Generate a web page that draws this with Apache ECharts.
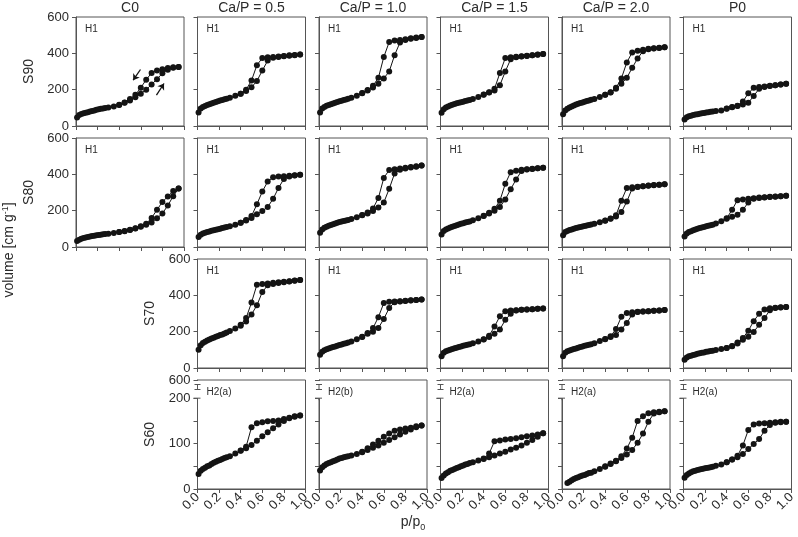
<!DOCTYPE html>
<html>
<head>
<meta charset="utf-8">
<script src="https://cdn.jsdelivr.net/npm/echarts@6/dist/echarts.min.js"></script>
<style>
html, body { margin: 0; padding: 0; background: #fff; }
#main { width: 798px; height: 537px; }
</style>
</head>
<body>
<div id="main"></div>
<script>
// column / row headers
const COLUMNS = ['C0', 'Ca/P = 0.5', 'Ca/P = 1.0', 'Ca/P = 1.5', 'Ca/P = 2.0', 'P0'];
const ROWS = ['S90', 'S80', 'S70', 'S60'];
const FIRST_COL = [0, 0, 1, 1];

// relative pressures shared by every isotherm
const P_ADS = [0.01, 0.03, 0.05, 0.07, 0.09, 0.11, 0.13, 0.15, 0.17, 0.19, 0.21, 0.23, 0.25, 0.27, 0.30,
  0.35, 0.40, 0.45, 0.50, 0.55, 0.60, 0.65, 0.70, 0.75, 0.80, 0.85, 0.90, 0.95];
const P_DES = [0.95, 0.90, 0.85, 0.80, 0.75, 0.70, 0.65, 0.60, 0.55, 0.50, 0.45, 0.40];

// S90
const s90_c0_ads = [47, 60, 66, 70, 73, 76, 80, 83, 86, 89, 92, 95, 97, 99, 102, 108, 116, 128, 140, 158, 178, 200, 229, 258, 290, 310, 320, 325];
const s90_c0_des = [325, 323, 319, 313, 305, 292, 255, 211, 172, 148, 130, 117];
const s90_c05_ads = [75, 96, 104, 110, 115, 120, 124, 128, 132, 136, 140, 143, 147, 150, 155, 166, 177, 192, 213, 248, 305, 360, 376, 380, 384, 387, 390, 393];
const s90_c05_des = [393, 391, 389, 386, 383, 380, 378, 374, 335, 250, 200, 178];
const s90_c10_ads = [75, 96, 105, 111, 116, 120, 124, 128, 132, 136, 139, 143, 146, 150, 156, 167, 180, 196, 212, 232, 262, 300, 390, 460, 474, 480, 485, 490];
const s90_c10_des = [490, 487, 483, 478, 474, 470, 462, 380, 265, 222, 198, 181];
const s90_c15_ads = [73, 92, 102, 108, 113, 117, 121, 125, 128, 131, 134, 137, 140, 143, 148, 160, 172, 185, 196, 225, 300, 368, 378, 382, 386, 389, 392, 396];
const s90_c15_des = [396, 393, 390, 387, 384, 381, 378, 374, 292, 205, 186, 173];
const s90_c20_ads = [65, 85, 95, 102, 108, 113, 118, 122, 126, 130, 134, 137, 141, 144, 149, 160, 172, 185, 205, 232, 265, 320, 372, 412, 422, 427, 430, 434];
const s90_c20_des = [434, 431, 428, 425, 420, 414, 405, 350, 262, 210, 186, 172];
const s90_p0_ads = [36, 48, 53, 57, 60, 63, 65, 67, 70, 72, 74, 76, 78, 80, 82, 86, 95, 103, 110, 118, 128, 165, 205, 215, 220, 224, 228, 233];
const s90_p0_des = [233, 229, 225, 221, 218, 214, 210, 180, 135, 112, 104, 96];

// S80
const s80_c0_ads = [33, 40, 45, 49, 52, 55, 58, 60, 62, 64, 66, 68, 70, 71, 73, 77, 82, 87, 94, 102, 112, 123, 135, 158, 185, 228, 280, 322];
const s80_c0_des = [322, 308, 278, 248, 205, 160, 128, 114, 103, 95, 88, 82];
const s80_c05_ads = [55, 68, 74, 78, 82, 86, 89, 92, 95, 98, 101, 104, 107, 110, 114, 123, 133, 146, 160, 180, 198, 220, 265, 325, 375, 388, 393, 398];
const s80_c05_des = [398, 395, 392, 390, 388, 384, 360, 305, 235, 170, 148, 134];
const s80_c10_ads = [78, 97, 106, 112, 117, 121, 125, 129, 133, 137, 140, 143, 146, 149, 154, 164, 175, 185, 198, 218, 245, 320, 405, 425, 432, 437, 442, 448];
const s80_c10_des = [448, 444, 440, 436, 432, 428, 424, 380, 270, 212, 190, 176];
const s80_c15_ads = [69, 88, 96, 102, 107, 112, 116, 120, 124, 128, 131, 135, 138, 141, 147, 158, 170, 184, 200, 220, 262, 318, 372, 418, 426, 430, 433, 436];
const s80_c15_des = [436, 434, 431, 428, 425, 420, 412, 348, 255, 210, 188, 172];
const s80_c20_ads = [64, 82, 88, 93, 97, 101, 104, 107, 110, 113, 116, 118, 121, 124, 128, 136, 145, 156, 168, 192, 250, 322, 330, 334, 337, 340, 342, 345];
const s80_c20_des = [345, 343, 341, 338, 335, 332, 329, 325, 255, 175, 157, 146];
const s80_p0_ads = [58, 75, 82, 87, 92, 96, 100, 104, 107, 110, 114, 117, 120, 123, 130, 142, 156, 166, 178, 205, 245, 266, 270, 273, 275, 277, 279, 282];
const s80_p0_des = [282, 280, 278, 276, 274, 272, 268, 265, 262, 258, 205, 158];

// S70
const s70_c05_ads = [100, 125, 137, 145, 151, 157, 162, 167, 172, 176, 181, 185, 190, 195, 203, 218, 232, 256, 295, 345, 418, 455, 462, 468, 472, 476, 480, 484];
const s70_c05_des = [484, 481, 478, 475, 472, 469, 465, 462, 458, 360, 275, 238];
const s70_c10_ads = [73, 90, 98, 103, 107, 111, 115, 119, 122, 126, 129, 133, 136, 140, 146, 158, 170, 188, 200, 220, 270, 330, 362, 366, 369, 372, 374, 377];
const s70_c10_des = [377, 375, 373, 370, 368, 366, 364, 358, 280, 220, 192, 172];
const s70_c15_ads = [64, 84, 92, 97, 101, 105, 109, 112, 116, 119, 122, 125, 128, 131, 136, 146, 157, 170, 188, 212, 265, 298, 316, 320, 322, 324, 326, 328];
const s70_c15_des = [328, 326, 324, 322, 320, 318, 316, 312, 285, 228, 178, 158];
const s70_c20_ads = [65, 84, 92, 97, 101, 105, 108, 112, 115, 118, 122, 125, 128, 131, 136, 148, 158, 170, 182, 212, 248, 295, 308, 311, 313, 315, 317, 319];
const s70_c20_des = [319, 317, 315, 313, 311, 309, 307, 303, 282, 214, 175, 159];
const s70_p0_ads = [45, 58, 64, 68, 72, 75, 78, 81, 84, 86, 89, 91, 93, 95, 99, 104, 110, 120, 135, 155, 172, 198, 238, 275, 318, 330, 333, 336];
const s70_p0_des = [336, 334, 332, 329, 322, 298, 258, 205, 165, 140, 121, 110];

// S60 (broken axis, 0-200)
const s60_c05_ads = [33, 40, 44, 47, 50, 52, 55, 58, 60, 62, 64, 66, 68, 70, 72, 78, 84, 90, 97, 106, 116, 125, 134, 142, 150, 156, 159, 162];
const s60_c05_des = [162, 160, 157, 154, 151, 150, 149, 147, 145, 136, 93, 85];
const s60_c10_ads = [41, 48, 52, 55, 57, 59, 61, 63, 65, 67, 68, 70, 71, 72, 74, 77, 81, 86, 91, 96, 102, 108, 114, 120, 126, 131, 136, 140];
const s60_c10_des = [140, 138, 135, 133, 131, 128, 122, 115, 106, 98, 90, 82];
const s60_c15_ads = [24, 30, 34, 37, 40, 42, 44, 46, 48, 50, 52, 54, 55, 57, 59, 63, 66, 70, 74, 78, 82, 87, 91, 96, 102, 108, 115, 123];
const s60_c15_des = [123, 120, 118, 116, 114, 112, 110, 109, 107, 105, 78, 67];
const s60_c20_ads = ['-', '-', 13, 16, 19, 22, 24, 26, 28, 30, 31, 33, 35, 36, 39, 44, 49, 55, 61, 68, 76, 86, 102, 122, 148, 166, 169, 171];
const s60_c20_des = [171, 170, 169, 167, 160, 150, 113, 89, 72, 62, 56, 50];
const s60_p0_ads = [25, 31, 34, 37, 39, 40, 42, 43, 44, 45, 46, 47, 48, 49, 51, 54, 59, 65, 70, 77, 88, 99, 110, 128, 141, 146, 147, 148];
const s60_p0_des = [148, 148, 147, 146, 145, 144, 142, 130, 96, 73, 65, 59];

// arrows in the C0 / S90 panel [from, to]
const ARROWS = [[[0.597, 311], [0.529, 252]], [[0.745, 170], [0.815, 234]]];

const PANELS = [
  { row: 0, col: 0, tag: 'H1', ads: s90_c0_ads, des: s90_c0_des },
  { row: 0, col: 1, tag: 'H1', ads: s90_c05_ads, des: s90_c05_des },
  { row: 0, col: 2, tag: 'H1', ads: s90_c10_ads, des: s90_c10_des },
  { row: 0, col: 3, tag: 'H1', ads: s90_c15_ads, des: s90_c15_des },
  { row: 0, col: 4, tag: 'H1', ads: s90_c20_ads, des: s90_c20_des },
  { row: 0, col: 5, tag: 'H1', ads: s90_p0_ads, des: s90_p0_des },
  { row: 1, col: 0, tag: 'H1', ads: s80_c0_ads, des: s80_c0_des },
  { row: 1, col: 1, tag: 'H1', ads: s80_c05_ads, des: s80_c05_des },
  { row: 1, col: 2, tag: 'H1', ads: s80_c10_ads, des: s80_c10_des },
  { row: 1, col: 3, tag: 'H1', ads: s80_c15_ads, des: s80_c15_des },
  { row: 1, col: 4, tag: 'H1', ads: s80_c20_ads, des: s80_c20_des },
  { row: 1, col: 5, tag: 'H1', ads: s80_p0_ads, des: s80_p0_des },
  { row: 2, col: 1, tag: 'H1', ads: s70_c05_ads, des: s70_c05_des },
  { row: 2, col: 2, tag: 'H1', ads: s70_c10_ads, des: s70_c10_des },
  { row: 2, col: 3, tag: 'H1', ads: s70_c15_ads, des: s70_c15_des },
  { row: 2, col: 4, tag: 'H1', ads: s70_c20_ads, des: s70_c20_des },
  { row: 2, col: 5, tag: 'H1', ads: s70_p0_ads, des: s70_p0_des },
  { row: 3, col: 1, tag: 'H2(a)', ads: s60_c05_ads, des: s60_c05_des },
  { row: 3, col: 2, tag: 'H2(b)', ads: s60_c10_ads, des: s60_c10_des },
  { row: 3, col: 3, tag: 'H2(a)', ads: s60_c15_ads, des: s60_c15_des },
  { row: 3, col: 4, tag: 'H2(a)', ads: s60_c20_ads, des: s60_c20_des },
  { row: 3, col: 5, tag: 'H2(a)', ads: s60_p0_ads, des: s60_p0_des }
];

const FONT = 'Liberation Sans, Arial, Helvetica, sans-serif';
const TEXT = '#2b2b2b';
const AXIS = '#555';
const MARK = '#141414';
const GRID_LEFT = 76, GRID_STEP_X = 121.5, GRID_W = 108;
const GRID_TOP = 17, GRID_STEP_Y = 121, GRID_H = 109;
const BROKEN_MAX = 240; // top of the broken S60 axis, labelled 600

const chart = echarts.init(document.getElementById('main'));

const grids = [], xAxes = [], yAxes = [], series = [], graphics = [];

PANELS.forEach((pn, k) => {
  const left = GRID_LEFT + GRID_STEP_X * pn.col;
  const top = GRID_TOP + GRID_STEP_Y * pn.row;
  const broken = pn.row === 3;
  const first = pn.col === FIRST_COL[pn.row];
  grids.push({
    left: left, top: top, width: GRID_W, height: GRID_H,
    show: true, borderColor: AXIS, borderWidth: 1, backgroundColor: 'transparent',
    containLabel: false, outerBoundsMode: 'none'
  });
  xAxes.push({
    gridIndex: k, type: 'value', min: 0, max: 1, interval: 0.2,
    axisLine: { show: true, lineStyle: { color: AXIS, width: 1 } },
    axisTick: { show: true, inside: false, length: 4, lineStyle: { color: AXIS } },
    axisLabel: {
      show: pn.row === 3, rotate: 45, margin: 6, fontSize: 13, color: TEXT, fontFamily: FONT,
      formatter: v => v.toFixed(1)
    },
    splitLine: { show: false }
  });
  yAxes.push({
    gridIndex: k, type: 'value', min: 0,
    max: broken ? BROKEN_MAX : 600, interval: broken ? 50 : 200,
    name: first ? ROWS[pn.row] : '', nameLocation: 'middle', nameGap: 40,
    nameTextStyle: { fontSize: 14, color: TEXT, fontFamily: FONT },
    axisLine: { show: true, lineStyle: { color: AXIS, width: 1 } },
    axisTick: { show: true, inside: false, length: 4, lineStyle: { color: AXIS } },
    axisLabel: {
      show: first, fontSize: 13, color: TEXT, fontFamily: FONT, margin: 7,
      formatter: v => broken ? (v === BROKEN_MAX ? '600' : (v % 100 === 0 ? String(v) : '')) : String(v)
    },
    splitLine: { show: false }
  });
  const base = {
    type: 'line', xAxisIndex: k, yAxisIndex: k, symbol: 'circle', symbolSize: 6,
    itemStyle: { color: MARK }, lineStyle: { color: MARK, width: 1 },
    animation: false, silent: true, z: 3
  };
  const adsSeries = Object.assign({}, base, { data: P_ADS.map((p, i) => [p, pn.ads[i]]) });
  if (pn.row === 0 && pn.col === 0) {
    adsSeries.markLine = {
      silent: true, animation: false, symbol: ['none', 'arrow'], symbolSize: 6,
      lineStyle: { color: MARK, width: 1.3, type: 'solid' }, label: { show: false },
      data: ARROWS.map(a => [{ coord: a[0] }, { coord: a[1] }])
    };
  }
  series.push(adsSeries);
  series.push(Object.assign({}, base, { data: P_DES.map((p, i) => [p, pn.des[i]]) }));
  graphics.push({
    type: 'text', x: left + 9, y: top + 12, z: 50,
    style: { text: pn.tag, fontSize: 10, fill: TEXT, fontFamily: FONT, align: 'left', verticalAlign: 'middle' }
  });
});

COLUMNS.forEach((c, i) => {
  graphics.push({
    type: 'text', x: GRID_LEFT + GRID_STEP_X * i + GRID_W / 2, y: 8, z: 50,
    style: { text: c, fontSize: 14, fill: TEXT, fontFamily: FONT, align: 'center', verticalAlign: 'middle' }
  });
});

graphics.push({
  type: 'text', x: 9, y: 250, rotation: Math.PI / 2, z: 50,
  style: {
    text: 'volume [cm g{sup|-1}]', fontSize: 14, fill: TEXT, fontFamily: FONT,
    align: 'center', verticalAlign: 'middle',
    rich: { sup: { fontSize: 9, fill: TEXT, fontFamily: FONT, verticalAlign: 'top', lineHeight: 16 } }
  }
});
graphics.push({
  type: 'text', x: 413, y: 522, z: 50,
  style: {
    text: 'p/p{sub|0}', fontSize: 14, fill: TEXT, fontFamily: FONT,
    align: 'center', verticalAlign: 'middle',
    rich: { sub: { fontSize: 9, fill: TEXT, fontFamily: FONT, verticalAlign: 'bottom', lineHeight: 20 } }
  }
});

chart.setOption({
  animation: false,
  backgroundColor: '#fff',
  textStyle: { fontFamily: FONT },
  grid: grids,
  xAxis: xAxes,
  yAxis: yAxes,
  series: series,
  graphic: graphics
});

// axis-break marks on the S60 panels
const breaks = [];
PANELS.forEach((pn, k) => {
  if (pn.row !== 3) return;
  const ax = GRID_LEFT + GRID_STEP_X * pn.col;
  const yTop = chart.convertToPixel({ yAxisIndex: k }, BROKEN_MAX);
  const y200 = chart.convertToPixel({ yAxisIndex: k }, 200);
  const y1 = yTop + 4.5, y2 = yTop + 9.5;
  const ls = { stroke: AXIS, lineWidth: 1 };
  breaks.push(
    { type: 'rect', z: 60, shape: { x: ax - 2, y: yTop + 1, width: 4, height: y200 - yTop - 1 }, style: { fill: '#fff' } },
    { type: 'line', z: 61, shape: { x1: ax, y1: y1, x2: ax, y2: y2 }, style: ls },
    { type: 'line', z: 61, shape: { x1: ax - 3, y1: y1, x2: ax + 3, y2: y1 }, style: ls },
    { type: 'line', z: 61, shape: { x1: ax - 3, y1: y2, x2: ax + 3, y2: y2 }, style: ls },
    { type: 'line', z: 61, shape: { x1: ax - 4, y1: y200, x2: ax + 3, y2: y200 }, style: ls },
    { type: 'line', z: 61, shape: { x1: ax, y1: y200, x2: ax, y2: y200 + 2 }, style: ls }
  );
});
chart.setOption({ graphic: graphics.concat(breaks) });
</script>
</body>
</html>
